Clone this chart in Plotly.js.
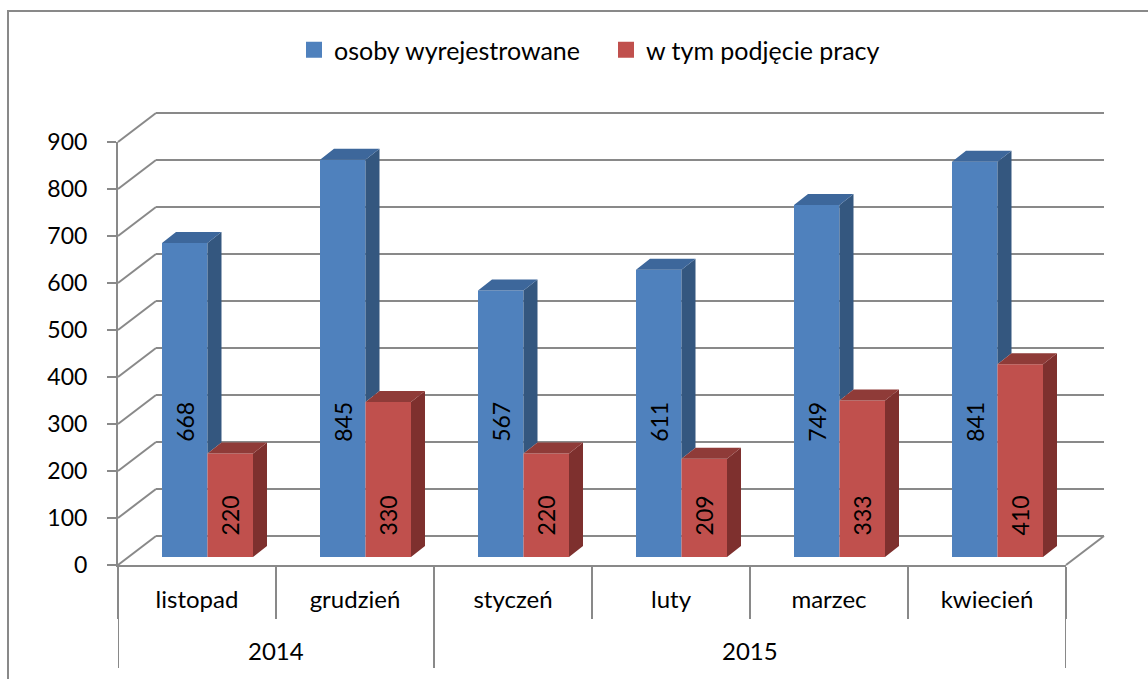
<!DOCTYPE html>
<html>
<head>
<meta charset="utf-8">
<script src="https://cdn.plot.ly/plotly-3.0.1.min.js"></script>
<style>html,body{margin:0;padding:0;background:#fff;}#chart{width:1148px;height:679px;}</style>
</head>
<body>
<div id="chart"></div>
<script>
// ---------- data ----------
const years = ["2014", "2014", "2015", "2015", "2015", "2015"];
const months = ["listopad", "grudzień", "styczeń", "luty", "marzec", "kwiecień"];
const seriesNames = ["osoby wyrejestrowane", "w tym podjęcie pracy"];
const wyrejestrowane = [668, 845, 567, 611, 749, 841];
const podjeciePracy = [220, 330, 220, 209, 333, 410];
const yTicks = [0, 100, 200, 300, 400, 500, 600, 700, 800, 900];

// ---------- geometry / style ----------
const W = 1148, H = 679;
const FONT = "Lato, 'Open Sans', sans-serif";
const GRID = "#898989";
const YMAX = 900;
const FRONT = {x0: 118, x1: 1066, y0: 565, y1: 142};   // front plane, pixels
const BACK = {dx: 38, dy: -29};                         // back wall shift
const BARPLANE = {dx: 10.5, dy: -8};                     // bar front plane shift
const BARDEPTH = {dx: 14, dy: -11};                      // bar depth, pixels
const BARW = 0.288;                                      // bar width, category units
const colors = {
  front: ["#4F81BD", "#C0504D"],
  side:  ["#34577F", "#7E302E"],
  top:   ["#3D679B", "#8F3B38"]
};
const labelLevel = [287, 89]; // label anchor height (data units) per series
const TICKSIZE = 23, CATSIZE = 24, LEGSIZE = 25;

const px = p => p / W;
const py = p => 1 - p / H;
const pxPerUnitX = (FRONT.x1 - FRONT.x0) / months.length;
const pxPerUnitY = (FRONT.y0 - FRONT.y1) / YMAX;
const dXu = BARDEPTH.dx / pxPerUnitX;
const dYu = -BARDEPTH.dy / pxPerUnitY;
const GRIDPAD = 3; // extra range so the top grid line is kept

const idx = months.map((_, i) => i);
const series = [wyrejestrowane, podjeciePracy];
const offsets = [-BARW, 0];

const traces = [];
// back wall (grid) subplot dummy
traces.push({type: "scatter", x: [null], y: [null], xaxis: "x", yaxis: "y", showlegend: false, hoverinfo: "skip"});

// front faces: bars
series.forEach((vals, s) => {
  traces.push({
    type: "bar", x: idx, y: vals, xaxis: "x2", yaxis: "y2",
    width: BARW, offset: offsets[s],
    marker: {color: colors.front[s], line: {width: 0}},
    name: seriesNames[s], showlegend: false,
    customdata: months.map((m, i) => years[i] + " " + m),
    hovertemplate: "%{customdata}: %{y}<extra>" + seriesNames[s] + "</extra>"
  });
});

// side and top faces
series.forEach((vals, s) => {
  const sx = [], sy = [], tx = [], ty = [];
  vals.forEach((v, i) => {
    const xl = i + offsets[s];
    const xr = xl + BARW;
    const base = (s + 1 < series.length) ? Math.min(series[s + 1][i], v) : 0;
    sx.push(xr, xr + dXu, xr + dXu, xr, xr, null);
    sy.push(base, base + dYu, v + dYu, v, base, null);
    tx.push(xl, xl + dXu, xr + dXu, xr, xl, null);
    ty.push(v, v + dYu, v + dYu, v, v, null);
  });
  traces.push({type: "scatter", mode: "lines", x: sx, y: sy, xaxis: "x2", yaxis: "y2",
    fill: "toself", fillcolor: colors.side[s], line: {width: 0, color: colors.side[s]},
    showlegend: false, hoverinfo: "skip"});
  traces.push({type: "scatter", mode: "lines", x: tx, y: ty, xaxis: "x2", yaxis: "y2",
    fill: "toself", fillcolor: colors.top[s], line: {width: 0, color: colors.top[s]},
    showlegend: false, hoverinfo: "skip"});
});

// legend proxies
series.forEach((vals, s) => {
  traces.push({type: "scatter", mode: "markers", x: [null], y: [null], xaxis: "x3", yaxis: "y3",
    name: seriesNames[s], marker: {symbol: "square", size: 16, color: colors.front[s]},
    showlegend: true, hoverinfo: "skip"});
});

// ---------- layout decorations ----------
const shapes = [];
// outer frame
shapes.push({type: "rect", xref: "paper", yref: "paper", x0: px(8), y0: py(11), x1: px(1170), y1: py(710),
  line: {color: GRID, width: 2}, layer: "below"});
// left wall diagonals at every tick
yTicks.forEach(v => {
  const yf = FRONT.y0 - v * pxPerUnitY;
  shapes.push({type: "line", xref: "paper", yref: "paper", layer: "below",
    x0: px(FRONT.x0), y0: py(yf), x1: px(FRONT.x0 + BACK.dx), y1: py(yf + BACK.dy),
    line: {color: GRID, width: 2}});
});
// right floor diagonal
shapes.push({type: "line", xref: "paper", yref: "paper", layer: "below",
  x0: px(FRONT.x1), y0: py(FRONT.y0), x1: px(FRONT.x1 + BACK.dx), y1: py(FRONT.y0 + BACK.dy),
  line: {color: GRID, width: 2}});
// year dividers
const yearList = [...new Set(years)];
const dividers = [-0.5];
yearList.forEach(y => { dividers.push(years.lastIndexOf(y) + 0.5); });
dividers.forEach(d => {
  shapes.push({type: "line", xref: "x3", yref: "paper", x0: d, x1: d, y0: py(FRONT.y0), y1: py(668),
    line: {color: GRID, width: 2}});
});

const annotations = [];
yearList.forEach(y => {
  const first = years.indexOf(y), last = years.lastIndexOf(y);
  annotations.push({xref: "x3", yref: "paper", x: (first + last) / 2, y: py(650), text: y,
    showarrow: false, font: {family: FONT, size: CATSIZE, color: "#000"}, yanchor: "middle"});
});
series.forEach((vals, s) => {
  vals.forEach((v, i) => {
    annotations.push({xref: "x2", yref: "y2", x: i + offsets[s] + BARW / 2, y: labelLevel[s],
      text: String(v), textangle: -90, showarrow: false,
      font: {family: FONT, size: TICKSIZE, color: "#000"}});
  });
});

const layout = {
  width: W, height: H, autosize: false,
  margin: {l: 0, r: 0, t: 0, b: 0},
  paper_bgcolor: "#fff", plot_bgcolor: "rgba(0,0,0,0)",
  font: {family: FONT, size: TICKSIZE, color: "#000"},
  showlegend: true,
  legend: {orientation: "h", x: px(294), xanchor: "left", y: py(50), yanchor: "middle",
    font: {family: FONT, size: LEGSIZE, color: "#000"}, bgcolor: "rgba(0,0,0,0)",
    itemwidth: 30, entrywidth: 267, entrywidthmode: "pixels"},
  // back wall
  xaxis: {domain: [px(FRONT.x0 + BACK.dx), px(FRONT.x1 + BACK.dx)], range: [-0.5, 5.5], visible: false, fixedrange: true},
  yaxis: {domain: [py(FRONT.y0 + BACK.dy), py(FRONT.y1 + BACK.dy - GRIDPAD * pxPerUnitY)], range: [0, YMAX + GRIDPAD], anchor: "x",
    tickvals: yTicks, showticklabels: false, ticks: "", showgrid: true, gridcolor: GRID, gridwidth: 2,
    zeroline: true, zerolinecolor: GRID, zerolinewidth: 2, showline: false, fixedrange: true},
  // bars
  xaxis2: {domain: [px(FRONT.x0 + BARPLANE.dx), px(FRONT.x1 + BARPLANE.dx)], range: [-0.5, 5.5], anchor: "y2", visible: false, fixedrange: true},
  yaxis2: {domain: [py(FRONT.y0 + BARPLANE.dy), py(FRONT.y1 + BARPLANE.dy)], range: [0, YMAX], anchor: "x2", visible: false, fixedrange: true},
  // front axes
  xaxis3: {domain: [px(FRONT.x0), px(FRONT.x1)], range: [-0.5, 5.5], anchor: "y3",
    tickmode: "array", tickvals: idx, ticktext: months, ticks: "", showgrid: false, zeroline: false,
    showline: true, linecolor: GRID, linewidth: 2, ticklabelstandoff: 12,
    tickfont: {family: FONT, size: CATSIZE, color: "#000"},
    minor: {tickvals: idx.concat([months.length]).map(i => i - 0.5), ticks: "outside", ticklen: 52, tickwidth: 2, tickcolor: GRID, showgrid: false},
    fixedrange: true},
  yaxis3: {domain: [py(FRONT.y0), py(FRONT.y1)], range: [0, YMAX], anchor: "x3",
    tickmode: "array", tickvals: yTicks, ticks: "outside", ticklen: 9, tickwidth: 2, tickcolor: GRID,
    showline: true, linecolor: GRID, linewidth: 2, showgrid: false, zeroline: false,
    ticklabelstandoff: 15, tickfont: {family: FONT, size: TICKSIZE, color: "#000"}, fixedrange: true},
  shapes: shapes,
  annotations: annotations
};

Plotly.newPlot("chart", traces, layout, {displayModeBar: false});
</script>
</body>
</html>
